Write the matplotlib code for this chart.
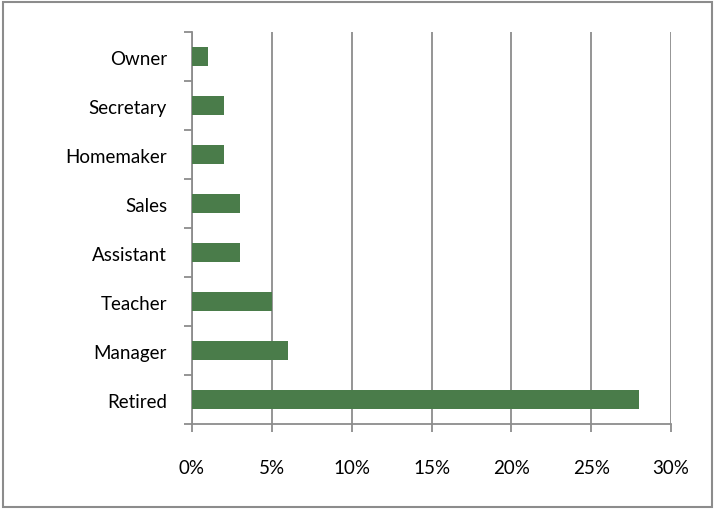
import matplotlib
matplotlib.use("Agg")
import matplotlib.pyplot as plt
import numpy as np
from matplotlib.patches import Rectangle
from matplotlib.ticker import FixedLocator, PercentFormatter

categories = ["Retired", "Manager", "Teacher", "Assistant", "Sales", "Homemaker", "Secretary", "Owner"]
values = [28, 6, 5, 3, 3, 2, 2, 1]
x_ticks = [0, 5, 10, 15, 20, 25, 30]

plt.rcParams["font.family"] = ["Lato", "DejaVu Sans"]

fig = plt.figure(figsize=(7.15, 5.1), dpi=100)
ax = fig.add_axes([0.2685, 0.1667, 0.67, 0.768])

pos = np.arange(len(categories))
ax.barh(pos, values, height=0.39, color="#4a7c4a", zorder=3)

ax.set_xlim(0, 30)
ax.set_ylim(-0.5, len(categories) - 0.5)
ax.set_xticks(x_ticks)
ax.xaxis.set_major_formatter(PercentFormatter(decimals=0))
ax.set_yticks(pos)
ax.set_yticklabels(categories)
ax.yaxis.set_minor_locator(FixedLocator(np.arange(-0.5, len(categories), 1)))

ax.grid(axis="x", color="#8c8c8c", linewidth=1.3, zorder=0)
for side in ["top", "right"]:
    ax.spines[side].set_visible(False)
for side in ["left", "bottom"]:
    ax.spines[side].set_color("#8c8c8c")
    ax.spines[side].set_linewidth(1.3)

ax.tick_params(axis="y", which="major", length=0, pad=18, labelsize=13.5)
ax.tick_params(axis="y", which="minor", length=6, width=1.3, color="#8c8c8c")
ax.tick_params(axis="x", length=6, width=1.3, color="#8c8c8c", pad=19, labelsize=13.5)

fig.patches.append(Rectangle((0.004, 0.004), 0.992, 0.99, transform=fig.transFigure,
                             fill=False, edgecolor="#8c8c8c", linewidth=1.5))

fig.savefig("out.png", dpi=100)
